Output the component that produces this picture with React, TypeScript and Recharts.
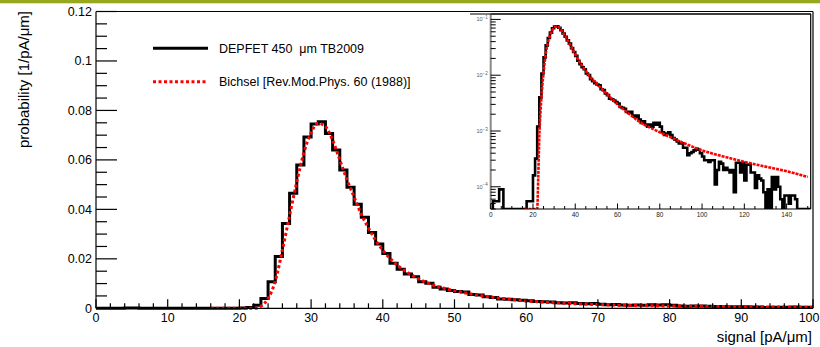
import { LineChart, Line, XAxis, YAxis } from "recharts";

// probability per 1 pA/um bin, bin i covers [i, i+1)
const depfetProb = [
  0, 5.5e-5, 5.5e-5, 5.5e-5, 9e-5, 9e-5, 0, 0, 0, 0,
  0, 0, 0, 0, 0, 0, 0, 5.5e-5, 5.5e-5, 5.5e-5,
  1.6e-4, 3.2e-4, 0.0012, 0.004, 0.0107, 0.0209, 0.0343, 0.0465, 0.0579, 0.0693,
  0.0745, 0.0754, 0.0707, 0.064, 0.0559, 0.0489, 0.0421, 0.0368, 0.0306, 0.026,
  0.0222, 0.0182, 0.0158, 0.0139, 0.0128, 0.0107, 0.0101, 0.0085, 0.0078, 0.0072,
  0.0068, 0.0066, 0.0056, 0.0054, 0.0047, 0.0044, 0.0038, 0.0037, 0.0035, 0.0033,
  0.0031, 0.0027, 0.0026, 0.0025, 0.0022, 0.0021, 0.0022, 0.0019, 0.0018, 0.0019,
  0.0016, 0.0014, 0.0015, 0.0013, 0.0012, 0.0013, 0.0012, 0.0014, 0.0013, 0.0014,
  0.0012, 0.00095, 0.00085, 0.0009, 0.00095, 0.00085, 0.00075, 0.0007, 0.00065, 0.0006,
  0.0006, 0.0005, 0.0005, 0.00037, 0.0004, 0.00042, 0.00045, 0.00048, 0.00046, 0.0004,
  0.00035, 0.0003, 0.0003, 0.00028, 0.0003, 0.0003, 0.00011, 0.0002, 0.00028, 0.00026,
  0.0002, 0.00022, 0.0002, 0.00018, 0.0002, 0.00008, 0.00027, 0.00027, 0.00018, 0.00027,
  0.00013, 0.00025, 0.00025, 0.00018, 0.00018, 0.000095, 0.00016, 0.00014, 0.00013, 0.00008,
  0, 0.00009, 0, 0.00015, 0.00009, 0.00015, 0.0001, 0.00006, 0, 0.00007,
  0.00007, 0.00005, 0.00007, 0.00007, 0.00006, 0, 0, 0, 0, 0,
  0,
];

const bichselX = [
  16, 18, 20, 21, 22, 22.5, 23, 23.5, 24, 25, 26, 27, 28, 29, 30, 31, 32, 33, 34, 35,
  36, 37, 38, 39, 40, 42, 44, 46, 48, 50, 55, 60, 65, 70, 80, 90, 100, 110, 120, 130,
  140, 150,
];
const bichselY = [
  0, 0, 0, 0, 0.00004, 0.00015, 0.0008, 0.002, 0.004, 0.011, 0.0236, 0.0375, 0.051, 0.063,
  0.071, 0.0748, 0.0735, 0.068, 0.06, 0.052, 0.045, 0.038, 0.0325, 0.0275, 0.0235, 0.0175,
  0.0135, 0.0105, 0.0085, 0.0071, 0.0046, 0.003, 0.0021, 0.0015, 0.00095, 0.00064, 0.00045,
  0.00035, 0.00028, 0.00023, 0.00019, 0.00015,
];

const mainXTicks = Array.from({ length: 51 }, (_, i) => i * 2);
const mainYTicks = Array.from({ length: 25 }, (_, i) => i * 0.005);
const insetXTicks = Array.from({ length: 31 }, (_, i) => i * 5);
const insetDecades = [-5, -4, -3, -2, -1];
const insetYTicks = insetDecades.flatMap((d) =>
  [1, 2, 3, 4, 5, 6, 7, 8, 9].map((k) => k * Math.pow(10, d))
);

const FONT = "'Liberation Sans', Arial, Helvetica, sans-serif";
const LOG_FLOOR = 4e-5;
const LOG_TOP = 0.125;
const INSET_XMAX = 151.4;

const mainHist = [
  ...depfetProb.slice(0, 100).map((p, i) => ({ x: i, p })),
  { x: 100, p: depfetProb[99] },
];
const mainModel = bichselX
  .map((x, i) => ({ x, p: bichselY[i] }))
  .filter((d) => d.x <= 100);

const insetHist = [
  ...depfetProb.map((p, i) => ({ x: i, p: Math.max(p, LOG_FLOOR) })),
  { x: INSET_XMAX, p: LOG_FLOOR },
];
const insetModel = bichselX.map((x, i) => ({ x, p: Math.max(bichselY[i], LOG_FLOOR) }));

function MainXTick({ x, y, payload }: any) {
  const v = payload.value;
  const major = v % 10 === 0;
  const last = v === 100;
  return (
    <g>
      <line x1={x} x2={x} y1={y} y2={y - (major ? 9 : 5)} stroke="#000" strokeWidth={1.2} />
      {major && (
        <text
          x={last ? 819.5 : x}
          y={y + 14}
          textAnchor={last ? "end" : "middle"}
          fontSize={12.5}
          fontFamily={FONT}
          fill="#000"
        >
          {v}
        </text>
      )}
    </g>
  );
}

function MainYTick({ x, y, payload }: any) {
  const v = payload.value;
  const major = Math.abs(v / 0.02 - Math.round(v / 0.02)) < 1e-6;
  return (
    <g>
      <line x1={x} x2={x + (major ? 21 : 11)} y1={y} y2={y} stroke="#000" strokeWidth={1.2} />
      {major && (
        <text x={x - 4} y={y + 4.5} textAnchor="end" fontSize={12.5} fontFamily={FONT} fill="#000">
          {String(Number(v.toFixed(3)))}
        </text>
      )}
    </g>
  );
}

function InsetXTick({ x, y, payload }: any) {
  const v = payload.value;
  const major = v % 20 === 0;
  return (
    <g>
      <line x1={x} x2={x} y1={y} y2={y - (major ? 5.5 : 3)} stroke="#000" strokeWidth={1} />
      {major && (
        <text x={x} y={y + 7.5} textAnchor="middle" fontSize={6.5} fontFamily={FONT} fill="#222">
          {v}
        </text>
      )}
    </g>
  );
}

function InsetYTick({ x, y, payload }: any) {
  const v = payload.value;
  const exp = Math.round(Math.log10(v));
  const major = Math.abs(Math.log10(v) - exp) < 1e-6;
  return (
    <g>
      <line x1={x} x2={x + (major ? 10 : 5)} y1={y} y2={y} stroke="#000" strokeWidth={1} />
      {major && (
        <text x={x - 3} y={y + 2} textAnchor="end" fontSize={5.5} fontFamily={FONT} fill="#555">
          10
          <tspan dy={-2.5} fontSize={4.5}>
            {"\u2212" + String(-exp)}
          </tspan>
        </text>
      )}
    </g>
  );
}

export default function App() {
  return (
    <div style={{ position: "absolute", left: 0, top: 0, width: 820, height: 347, background: "#fff" }}>
      <div style={{ position: "absolute", left: 0, top: 0 }}>
        <LineChart width={820} height={347} margin={{ top: 10.5, right: 6, bottom: 37.7, left: 95 }}>
          <XAxis
            dataKey="x"
            type="number"
            domain={[0, 100]}
            ticks={mainXTicks}
            interval={0}
            tickSize={0}
            tickMargin={0}
            tickLine={false}
            height={1}
            tick={<MainXTick />}
            axisLine={{ stroke: "#000", strokeWidth: 1.2 }}
          />
          <XAxis
            xAxisId="top"
            orientation="top"
            type="number"
            domain={[0, 100]}
            tick={false}
            tickLine={false}
            height={1}
            axisLine={{ stroke: "#000", strokeWidth: 1.2 }}
          />
          <YAxis
            type="number"
            domain={[0, 0.12]}
            ticks={mainYTicks}
            interval={0}
            tickSize={0}
            tickMargin={0}
            tickLine={false}
            width={1}
            tick={<MainYTick />}
            axisLine={{ stroke: "#000", strokeWidth: 1.2 }}
          />
          <YAxis
            yAxisId="right"
            orientation="right"
            type="number"
            domain={[0, 0.12]}
            tick={false}
            tickLine={false}
            width={1}
            axisLine={{ stroke: "#000", strokeWidth: 1.2 }}
          />
          <Line
            data={mainHist}
            dataKey="p"
            type="stepAfter"
            stroke="#000"
            strokeWidth={3}
            dot={false}
            isAnimationActive={false}
          />
          <Line
            data={mainModel}
            dataKey="p"
            type="monotone"
            stroke="#ff0000"
            strokeWidth={3}
            strokeDasharray="3 2.5"
            dot={false}
            isAnimationActive={false}
          />
        </LineChart>
      </div>

      <div style={{ position: "absolute", left: 470, top: 0 }}>
        <LineChart width={350} height={225} margin={{ top: 13, right: 8.3, bottom: 15, left: 19.7 }}>
          <XAxis
            dataKey="x"
            type="number"
            domain={[0, INSET_XMAX]}
            allowDataOverflow
            ticks={insetXTicks}
            interval={0}
            tickSize={0}
            tickMargin={0}
            tickLine={false}
            height={1}
            tick={<InsetXTick />}
            axisLine={{ stroke: "#000", strokeWidth: 1.2 }}
          />
          <XAxis
            xAxisId="top"
            orientation="top"
            type="number"
            domain={[0, INSET_XMAX]}
            tick={false}
            tickLine={false}
            height={1}
            axisLine={{ stroke: "#000", strokeWidth: 1.2 }}
          />
          <YAxis
            type="number"
            scale="log"
            domain={[LOG_FLOOR, LOG_TOP]}
            allowDataOverflow
            ticks={insetYTicks.filter((t) => t >= LOG_FLOOR && t <= LOG_TOP)}
            interval={0}
            tickSize={0}
            tickMargin={0}
            tickLine={false}
            width={1}
            tick={<InsetYTick />}
            axisLine={{ stroke: "#888", strokeWidth: 2 }}
          />
          <YAxis
            yAxisId="right"
            orientation="right"
            type="number"
            domain={[0, 1]}
            tick={false}
            tickLine={false}
            width={1}
            axisLine={{ stroke: "#000", strokeWidth: 1.2 }}
          />
          <Line
            data={insetHist}
            dataKey="p"
            type="stepAfter"
            stroke="#000"
            strokeWidth={2.6}
            dot={false}
            isAnimationActive={false}
          />
          <Line
            data={insetModel}
            dataKey="p"
            type="monotone"
            stroke="#ff0000"
            strokeWidth={2.6}
            strokeDasharray="3 1"
            dot={false}
            isAnimationActive={false}
          />
        </LineChart>
      </div>

      <svg
        width={820}
        height={347}
        style={{ position: "absolute", left: 0, top: 0, pointerEvents: "none" }}
      >
        <rect x={0} y={0} width={820} height={3.3} fill="#97a81f" />
        <line x1={470} x2={811} y1={14} y2={14} stroke="#000" strokeWidth={1.2} />
        <line x1={153} x2={208} y1={48.3} y2={48.3} stroke="#000" strokeWidth={3} />
        <text x={219} y={52.5} fontSize={12.5} fontFamily={FONT} fill="#000" style={{ whiteSpace: "pre" }}>
          {"DEPFET 450  \u03bcm TB2009"}
        </text>
        <line
          x1={153}
          x2={208}
          y1={81.7}
          y2={81.7}
          stroke="#ff0000"
          strokeWidth={3}
          strokeDasharray="3 2.5"
        />
        <text x={219} y={86} fontSize={12.5} fontFamily={FONT} fill="#000">
          Bichsel [Rev.Mod.Phys. 60 (1988)]
        </text>
        <text x={812} y={341.5} textAnchor="end" fontSize={15} fontFamily={FONT} fill="#000">
          {"signal [pA/\u03bcm]"}
        </text>
        <text
          x={29}
          y={11}
          textAnchor="end"
          fontSize={15}
          fontFamily={FONT}
          fill="#000"
          transform="rotate(-90 29 11)"
        >
          {"probability [1/pA/\u03bcm]"}
        </text>
      </svg>
    </div>
  );
}
